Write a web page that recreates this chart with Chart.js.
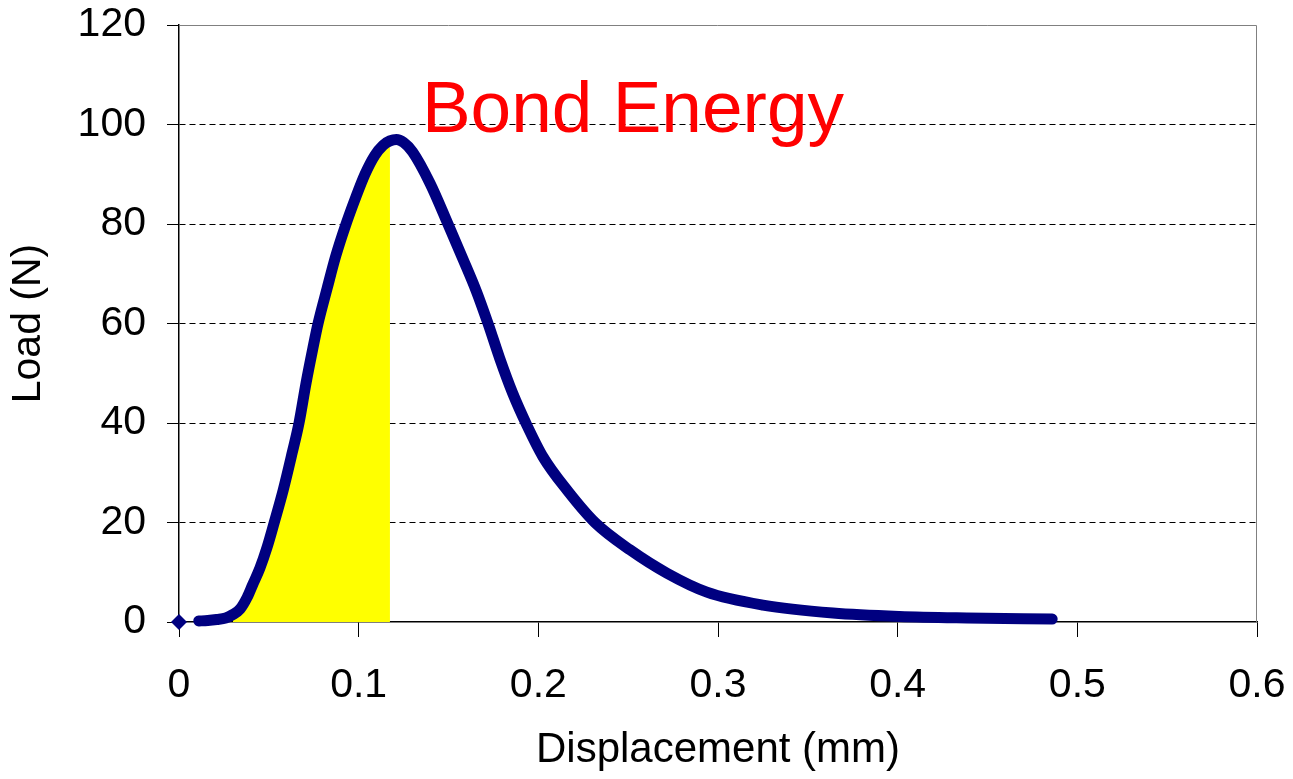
<!DOCTYPE html>
<html>
  <head>
    <script src="https://cdn.jsdelivr.net/npm/chart.js"></script>
    <style>
      body {
        margin: 0;
        background: #fff;
      }
      #wrap {
        width: 1293px;
        height: 779px;
      }
    </style>
  </head>
  <body>
    <div id="wrap">
      <canvas id="loadChart" width="1293" height="779"></canvas>
    </div>

    <script>
      // Displacement (mm) and load (N)
      var dispMm = [0, 0.011, 0.016, 0.021, 0.026, 0.030, 0.034, 0.038, 0.041, 0.045, 0.049,
                    0.053, 0.058, 0.063, 0.0668, 0.0707, 0.0745, 0.0774, 0.0824, 0.0872, 0.0925,
                    0.098, 0.1035, 0.109, 0.1135, 0.1174, 0.121, 0.125, 0.130, 0.1397, 0.1497,
                    0.158, 0.1655, 0.172, 0.1785, 0.1857, 0.1937, 0.2026, 0.216, 0.2315, 0.251,
                    0.2716, 0.2938, 0.325, 0.364, 0.401, 0.4385, 0.486];
      var loadN = [0, 0.2, 0.3, 0.5, 0.8, 1.5, 2.6, 5.0, 7.5, 10.8, 15,
                   20, 26.5, 34, 40, 48, 55, 60, 67, 73.5, 79.5,
                   85, 90, 93.8, 95.8, 96.7, 97, 96.4, 94.5, 88.2, 80,
                   73, 66.5, 60, 53, 46, 39.5, 33.2, 26.5, 20, 14.5,
                   9.8, 6, 3.4, 1.8, 1.1, 0.8, 0.6];

      // shaded area (bond energy) runs from the start of the rise to just before the peak
      var bondStartX = 0.030;
      var bondEndX = 0.1174;
      var bondLabel = 'Bond Energy';
      var bondLabelPos = [0.1352, 98.5];

      var xTicks = [0, 0.1, 0.2, 0.3, 0.4, 0.5, 0.6];
      var yTicks = [0, 20, 40, 60, 80, 100, 120];

      var navy = '#000080';
      var fontFamily = '"Liberation Sans", Arial, sans-serif';

      var curvePts = dispMm.map(function(x, i) { return {x: x, y: loadN[i]}; });
      var bondPts = curvePts.filter(function(p) { return p.x >= bondStartX && p.x <= bondEndX; });

      // gray frame on top and right, red label
      var framePlugin = {
        id: 'frame',
        beforeDatasetsDraw: function(chart) {
          var a = chart.chartArea, ctx = chart.ctx;
          ctx.save();
          ctx.strokeStyle = '#808080';
          ctx.lineWidth = 1;
          ctx.beginPath();
          ctx.moveTo(a.left, a.top + 0.5);
          ctx.lineTo(a.right - 0.5, a.top + 0.5);
          ctx.lineTo(a.right - 0.5, a.bottom);
          ctx.stroke();
          ctx.restore();
        },
        afterDraw: function(chart) {
          var ctx = chart.ctx;
          var px = chart.scales.x.getPixelForValue(bondLabelPos[0]);
          var py = chart.scales.y.getPixelForValue(bondLabelPos[1]);
          ctx.save();
          ctx.fillStyle = '#ff0000';
          ctx.font = '73px ' + fontFamily;
          ctx.textBaseline = 'alphabetic';
          ctx.fillText(bondLabel, px, py);
          ctx.restore();
        }
      };

      var ctx = document.getElementById('loadChart').getContext('2d');
      new Chart(ctx, {
        type: 'line',
        data: {
          datasets: [{
            label: 'Load',
            data: curvePts,
            borderColor: navy,
            backgroundColor: navy,
            borderWidth: 11,
            borderCapStyle: 'round',
            borderJoinStyle: 'round',
            cubicInterpolationMode: 'monotone',
            fill: false,
            clip: false,
            pointStyle: 'rectRot',
            pointRadius: function(c) { return c.dataIndex === 0 ? 8 : 0; },
            pointBorderWidth: 0,
            segment: {
              borderColor: function(c) { return c.p0DataIndex === 0 ? 'rgba(0,0,0,0)' : navy; }
            }
          }, {
            label: bondLabel,
            data: bondPts,
            borderWidth: 0,
            borderColor: 'rgba(0,0,0,0)',
            backgroundColor: '#ffff00',
            pointRadius: 0,
            cubicInterpolationMode: 'monotone',
            fill: 'origin'
          }]
        },
        options: {
          responsive: false,
          animation: false,
          layout: {
            padding: {left: 0, right: 36, top: 25, bottom: 0}
          },
          plugins: {
            legend: {display: false},
            tooltip: {enabled: false}
          },
          scales: {
            x: {
              type: 'linear',
              min: 0,
              max: 0.6,
              afterBuildTicks: function(s) {
                s.ticks = xTicks.map(function(v) { return {value: v}; });
              },
              afterFit: function(s) {
                s.height = 157;
                s.paddingLeft = 0;
                s.paddingRight = 0;
              },
              grid: {
                drawOnChartArea: false,
                drawTicks: true,
                tickLength: 15,
                tickColor: '#000',
                tickWidth: 1
              },
              border: {color: '#000', width: 1.5},
              ticks: {
                color: '#000',
                padding: 24,
                maxRotation: 0,
                font: {family: fontFamily, size: 41},
                callback: function(v) { return String(+v.toFixed(1)); }
              },
              title: {
                display: true,
                text: 'Displacement (mm)',
                color: '#000',
                padding: {top: 0, bottom: 3},
                font: {family: fontFamily, size: 42}
              }
            },
            y: {
              min: 0,
              max: 120,
              afterBuildTicks: function(s) {
                s.ticks = yTicks.map(function(v) { return {value: v}; });
              },
              afterFit: function(s) {
                s.width = 179;
                s.paddingTop = 0;
                s.paddingBottom = 0;
              },
              grid: {
                color: function(c) {
                  return (c.tick && (c.tick.value === 0 || c.tick.value === 120)) ? 'rgba(0,0,0,0)' : '#000';
                },
                lineWidth: 1,
                tickLength: 12,
                tickColor: '#000',
                tickWidth: 1,
                tickBorderDash: []
              },
              border: {color: '#000', width: 1.5, dash: [6, 4]},
              ticks: {
                color: '#000',
                padding: 21,
                font: {family: fontFamily, size: 41}
              },
              title: {
                display: true,
                text: 'Load (N)',
                color: '#000',
                padding: {top: 4, bottom: 0},
                font: {family: fontFamily, size: 41}
              }
            }
          }
        },
        plugins: [framePlugin]
      });
    </script>
  </body>
</html>
